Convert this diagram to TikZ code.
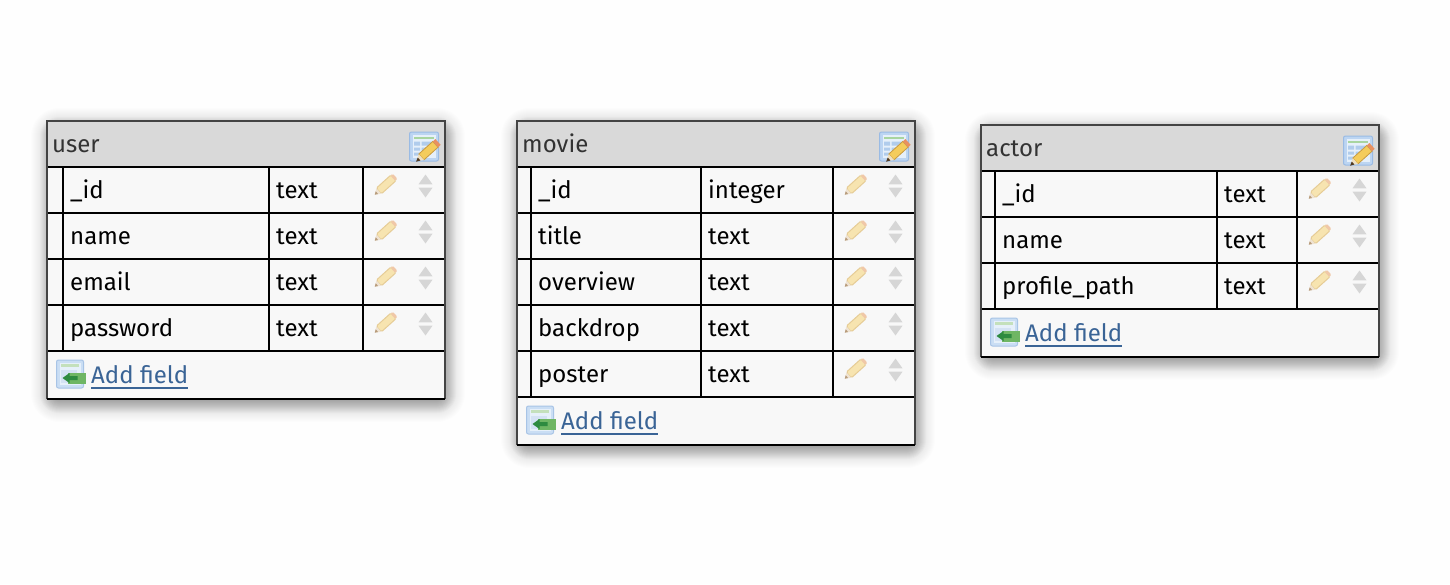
\documentclass[tikz,border=0pt]{standalone}
\usepackage{fontspec}
\setmainfont{Fira Sans}
\definecolor{pagebg}{HTML}{FEFEFE}
\definecolor{rowbg}{HTML}{F8F8F8}
\definecolor{headbg}{HTML}{D9D9D9}
\definecolor{edgecol}{HTML}{444444}
\definecolor{linkcol}{HTML}{3A6496}
\definecolor{titlecol}{HTML}{333333}
\newcommand{\hexcol}[1]{\definecolor{#1}{HTML}{#1}}
\hexcol{F7E4B0}\hexcol{E6CC96}\hexcol{EFE3D2}\hexcol{B89C7C}\hexcol{F0C8A8}\hexcol{D6D6D6}
\hexcol{BCD5F2}\hexcol{9ABBE4}\hexcol{F4CC5C}\hexcol{F0E0C0}\hexcol{503820}\hexcol{E89060}
\hexcol{CADEF4}\hexcol{A8C4E6}\hexcol{C4E0BC}\hexcol{D4E2F4}\hexcol{6FB664}\hexcol{2E8B40}
\hexcol{A8D5A0}\hexcol{B0CCEC}\hexcol{E6F0FA}\hexcol{C89A40}
\tikzset{
  x=1pt,y=-1pt,
  rowtext/.style={anchor=base west,inner sep=0pt,text=black,font=\fontsize{24}{28}\selectfont},
  titletext/.style={anchor=base west,inner sep=0pt,text=titlecol,font=\fontsize{24}{28}\selectfont},
  linktext/.style={anchor=base west,inner sep=0pt,text=linkcol,font=\fontsize{24}{28}\selectfont},
  gridline/.style={draw=black,line width=2pt},
  pencil/.pic={
    \begin{scope}[rotate=42]
    \filldraw[fill=F7E4B0,draw=E6CC96,line width=1pt,rounded corners=1.5pt] (-9,-3.8) rectangle (11,3.8);
    \fill[EFE3D2] (-9,-3.8) -- (-14,0) -- (-9,3.8) -- cycle;
    \fill[B89C7C] (-11.5,-1.9) -- (-14.5,0) -- (-11.5,1.9) -- cycle;
    \fill[F0C8A8,rounded corners=1.5pt] (10,-3.8) rectangle (13,3.8);
    \end{scope}
  },
  updown/.pic={
    \fill[D6D6D6] (-7,-1.7) -- (0,-11.5) -- (7,-1.7) -- cycle;
    \fill[D6D6D6] (-7,1.7) -- (0,11.5) -- (7,1.7) -- cycle;
  },
  editicon/.pic={
    \filldraw[fill=BCD5F2,draw=9ABBE4,line width=1pt,rounded corners=2pt] (-14.5,-14.5) rectangle (14.5,14.5);
    \fill[E6F0FA] (-11.5,-12) rectangle (11.5,11.5);
    \fill[A8D5A0] (-10,-10) rectangle (10,-7.5);
    \fill[B0CCEC] (-10,-5) rectangle (-4,-1) (-2.5,-5) rectangle (9,-1)
                  (-10,1) rectangle (-4,4) (-2.5,1) rectangle (3,4)
                  (-10,6) rectangle (-4,9) (-2.5,6) rectangle (0,9);
    \begin{scope}[shift={(4,4.5)},rotate=42]
    \filldraw[fill=F4CC5C,draw=C89A40,line width=.8pt] (-9,-3.9) rectangle (10,3.9);
    \fill[F0E0C0] (-9,-3.9) -- (-15,0) -- (-9,3.9) -- cycle;
    \fill[503820] (-12,-2) -- (-16,0) -- (-12,2) -- cycle;
    \fill[E89060] (10,-3.9) rectangle (13.5,3.9);
    \end{scope}
  },
  addicon/.pic={
    \filldraw[fill=CADEF4,draw=A8C4E6,line width=1pt,rounded corners=2pt] (-14,-14) rectangle (13,14);
    \fill[E6F0FA] (-11,-11.5) rectangle (10,11);
    \fill[C4E0BC] (-10,-10) rectangle (8,-7);
    \fill[D4E2F4] (-10,-4) rectangle (6,9);
    \fill[6FB664] (-3,-1) rectangle (15,9.5);
    \fill[2E8B40] (-8,4) -- (-1,-1) -- (-1,2) -- (7,2) -- (7,6) -- (-1,6) -- (-1,9) -- cycle;
  },
}
\newcommand{\DBtable}[8]{%
  % #1 name, #2 left, #3 top, #4 col1, #5 col2, #6 col3, #7 title, #8 rows
  \pgfmathsetmacro{\tR}{#2+398}
  \pgfmathsetmacro{\hB}{#3+46}
  \foreach \nm/\ty [count=\ri] in {#8} {\xdef\nrows{\ri}}
  \pgfmathsetmacro{\fB}{\hB+46*\nrows}
  \pgfmathsetmacro{\tB}{\fB+48}
  \foreach \s in {-6,...,18} {
    \pgfmathsetmacro{\rc}{\s+10}
    \fill[black,opacity=.006,rounded corners=\rc pt]
      ({#2+2-\s},{#3+5-\s}) rectangle ({\tR+2+\s},{\tB+5+\s});
  }
  \foreach \s in {-6,...,9} {
    \pgfmathsetmacro{\rc}{\s+10}
    \fill[black,opacity=.015,rounded corners=\rc pt]
      ({#2+2-\s},{#3+5-\s}) rectangle ({\tR+2+\s},{\tB+5+\s});
  }
  \fill[rowbg] (#2,#3) rectangle (\tR,\tB);
  \fill[headbg] (#2,#3) rectangle (\tR,\hB);
  \node[titletext] (#1-title) at ({#2+5},{#3+31}) {#7};
  \pic at ({\tR-21},{#3+25.5}) {editicon};
  \foreach \nm/\ty [count=\ri] in {#8} {
    \pgfmathsetmacro{\rT}{\hB+46*(\ri-1)}
    \pgfmathsetmacro{\rB}{\rT+46}
    \draw[gridline] (#2,\rB) -- (\tR,\rB);
    \node[rowtext] (#1-name-\ri) at ({#4+7},{\rT+31}) {\nm};
    \node[rowtext] (#1-type-\ri) at ({#5+7},{\rT+31}) {\ty};
    \pic at ({\tR-59.5},{\rT+18}) {pencil};
    \pic at ({\tR-19.5},{\rT+19}) {updown};
  }
  \draw[gridline] (#2,\hB) -- (\tR,\hB);
  \draw[gridline] (#4,\hB) -- (#4,\fB);
  \draw[gridline] (#5,\hB) -- (#5,\fB);
  \draw[gridline] (#6,\hB) -- (#6,\fB);
  \pic at ({#2+23.5},{\fB+23}) {addicon};
  \node[linktext] (#1-add) at ({#2+44},{\fB+32}) {Add field};
  \draw[linkcol,line width=1.6pt] ([yshift=-5pt]#1-add.base west) -- ([yshift=-5pt]#1-add.base east);
  \draw[edgecol,line width=2pt] (#2,\tB) -- (#2,#3) -- (\tR,#3) -- (\tR,\tB);
  \draw[black,line width=2pt] (#2,\tB) -- (\tR,\tB);
}
\begin{document}
\begin{tikzpicture}
\useasboundingbox (0,0) rectangle (1450,584);
\fill[pagebg] (0,0) rectangle (1450,584);
\DBtable{user}{47}{121}{63}{269}{363}{user}{\_id/text,name/text,email/text,password/text}
\DBtable{movie}{517}{121}{531}{701}{833}{movie}{\_id/integer,title/text,overview/text,backdrop/text,poster/text}
\DBtable{actor}{981}{125}{995}{1217}{1297}{actor}{\_id/text,name/text,profile\_path/text}
\end{tikzpicture}
\end{document}
